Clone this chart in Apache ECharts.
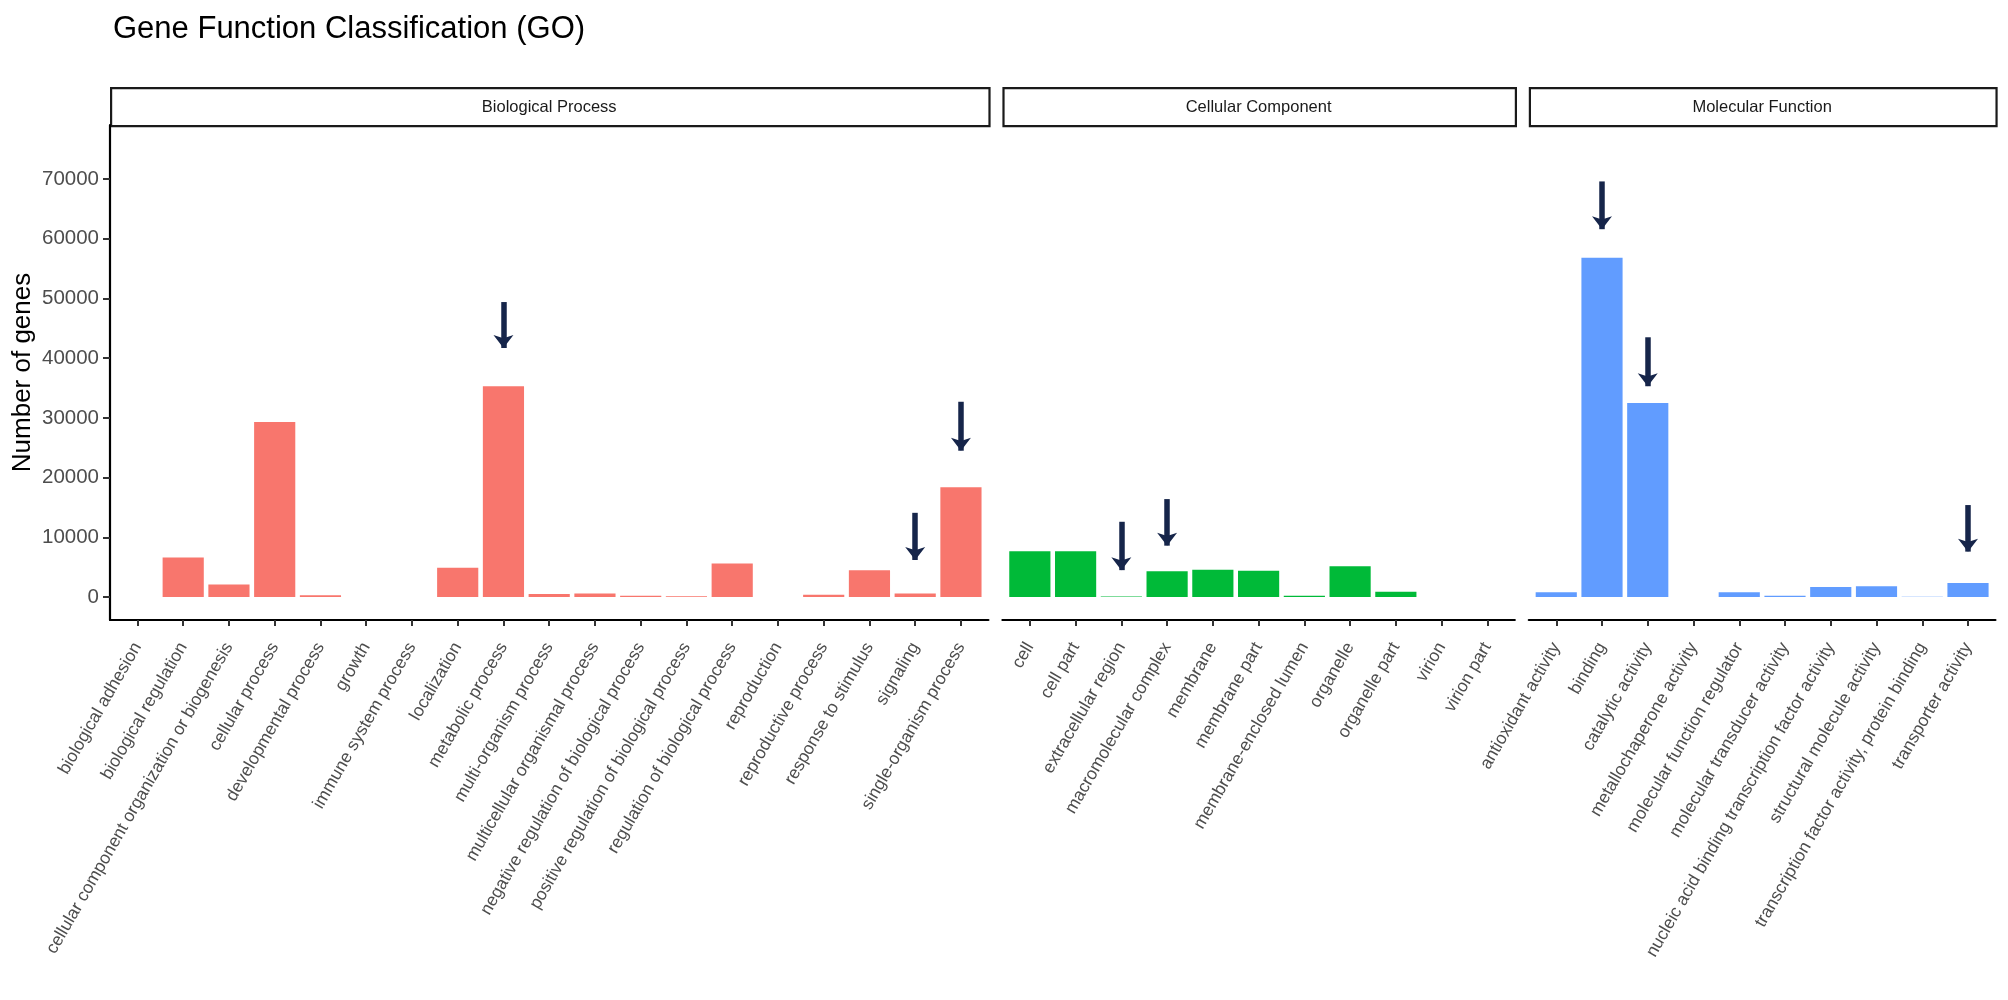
<!DOCTYPE html>
<html>
<head>
<meta charset="utf-8">
<script src="https://cdn.jsdelivr.net/npm/echarts@6/dist/echarts.min.js"></script>
<style>
html,body{margin:0;padding:0;background:#fff;}
#chart{width:2008px;height:1000px;}
</style>
</head>
<body>
<div id="chart"></div>
<script>
// ---------- data ----------
const panelNames = ["Biological Process", "Cellular Component", "Molecular Function"];

const bpCats = ["biological adhesion","biological regulation","cellular component organization or biogenesis","cellular process","developmental process","growth","immune system process","localization","metabolic process","multi-organism process","multicellular organismal process","negative regulation of biological process","positive regulation of biological process","regulation of biological process","reproduction","reproductive process","response to stimulus","signaling","single-organism process"];
const bpVals = [0, 6600, 2100, 29300, 280, 0, 0, 4900, 35300, 500, 600, 220, 110, 5600, 0, 390, 4500, 600, 18400];

const ccCats = ["cell","cell part","extracellular region","macromolecular complex","membrane","membrane part","membrane-enclosed lumen","organelle","organelle part","virion","virion part"];
const ccVals = [7650, 7650, 100, 4300, 4580, 4410, 220, 5140, 890, 0, 0];

const mfCats = ["antioxidant activity","binding","catalytic activity","metallochaperone activity","molecular function regulator","molecular transducer activity","nucleic acid binding transcription factor activity","structural molecule activity","transcription factor activity, protein binding","transporter activity"];
const mfVals = [780, 56800, 32500, 0, 780, 220, 1680, 1790, 60, 2350];

// arrow annotations: [category, start value, end value]
const bpArrows = [["metabolic process", 49400, 41700], ["signaling", 14100, 6200], ["single-organism process", 32700, 24500]];
const ccArrows = [["extracellular region", 12600, 4500], ["macromolecular complex", 16400, 8600]];
const mfArrows = [["binding", 69600, 61600], ["catalytic activity", 43500, 35300], ["transporter activity", 15400, 7600]];

const yTicks = [0, 10000, 20000, 30000, 40000, 50000, 60000, 70000];

// ---------- layout ----------
const FONT = 'Liberation Sans, Arial, Helvetica, sans-serif';
const colors = ["#F8766D", "#00BA38", "#619CFF"];
const U = 45.75, GAP = 14, LEFT0 = 110, TOP = 125, H = 495;
const STRIP_TOP = 87;
const yMin = -3850, yMax = 79050;

const panels = [
  {cats: bpCats, vals: bpVals, arrows: bpArrows},
  {cats: ccCats, vals: ccVals, arrows: ccArrows},
  {cats: mfCats, vals: mfVals, arrows: mfArrows}
];
let x = LEFT0;
panels.forEach(p => { p.left = x; p.width = (p.cats.length + 0.2) * U; x += p.width + GAP; });

const grids = [], xAxes = [], yAxes = [], series = [], graphics = [];
panels.forEach((p, k) => {
  const n = p.cats.length;
  const idx = p.cats.map((c, i) => i);
  grids.push({left: p.left, top: TOP, width: p.width, height: H});
  xAxes.push({
    type: 'value', gridIndex: k, min: -0.6, max: n - 0.4,
    splitLine: {show: false},
    axisLine: {show: true, onZero: false, lineStyle: {color: '#000', width: 2.2}},
    axisTick: {show: true, length: 6, customValues: idx, lineStyle: {color: '#333', width: 2}},
    axisLabel: {
      customValues: idx, rotate: 60, margin: 24, fontSize: 17.5,
      fontFamily: FONT, color: '#4d4d4d',
      formatter: v => p.cats[Math.round(v)] || ''
    }
  });
  yAxes.push({
    type: 'value', gridIndex: k, min: yMin, max: yMax,
    show: k === 0,
    splitLine: {show: false},
    axisLine: {show: k === 0, onZero: false, lineStyle: {color: '#000', width: 2.2}},
    axisTick: {show: k === 0, length: 7, customValues: yTicks, lineStyle: {color: '#333', width: 2}},
    axisLabel: {show: k === 0, customValues: yTicks, fontSize: 20.5, margin: 11,
      fontFamily: FONT, color: '#4d4d4d', formatter: v => String(v)},
    name: k === 0 ? 'Number of genes' : '',
    nameLocation: 'middle', nameRotate: 90, nameGap: 74,
    nameTextStyle: {fontSize: 26, color: '#000', fontFamily: FONT}
  });
  series.push({
    type: 'bar', xAxisIndex: k, yAxisIndex: k,
    data: p.vals.map((v, i) => [i, v]),
    barWidth: 0.9 * U,
    itemStyle: {color: colors[k]},
    markLine: {
      silent: true, animation: false,
      symbol: ['none', 'arrow'], symbolSize: [15, 13],
      label: {show: false},
      lineStyle: {color: '#16254a', width: 5.5, type: 'solid'},
      data: p.arrows.map(a => [
        {coord: [p.cats.indexOf(a[0]), a[1]]},
        {coord: [p.cats.indexOf(a[0]), a[2]]}
      ])
    }
  });
  graphics.push({
    type: 'rect', left: p.left, top: STRIP_TOP,
    shape: {width: p.width, height: TOP - STRIP_TOP},
    style: {fill: '#fff', stroke: '#1a1a1a', lineWidth: 2.2}
  });
  graphics.push({
    type: 'text', x: p.left + p.width / 2, y: (STRIP_TOP + TOP) / 2 + 1,
    style: {text: panelNames[k], fill: '#1a1a1a', fontSize: 16.5,
      fontFamily: FONT, align: 'center', verticalAlign: 'middle'}
  });
});

const chart = echarts.init(document.getElementById('chart'), null, {renderer: 'canvas'});
chart.setOption({
  animation: false,
  backgroundColor: '#fff',
  title: {
    text: 'Gene Function Classification (GO)', left: 108, top: 9,
    textStyle: {fontSize: 31, fontWeight: 'normal', color: '#000', fontFamily: FONT}
  },
  grid: grids, xAxis: xAxes, yAxis: yAxes, series: series, graphic: graphics
});
</script>
</body>
</html>
